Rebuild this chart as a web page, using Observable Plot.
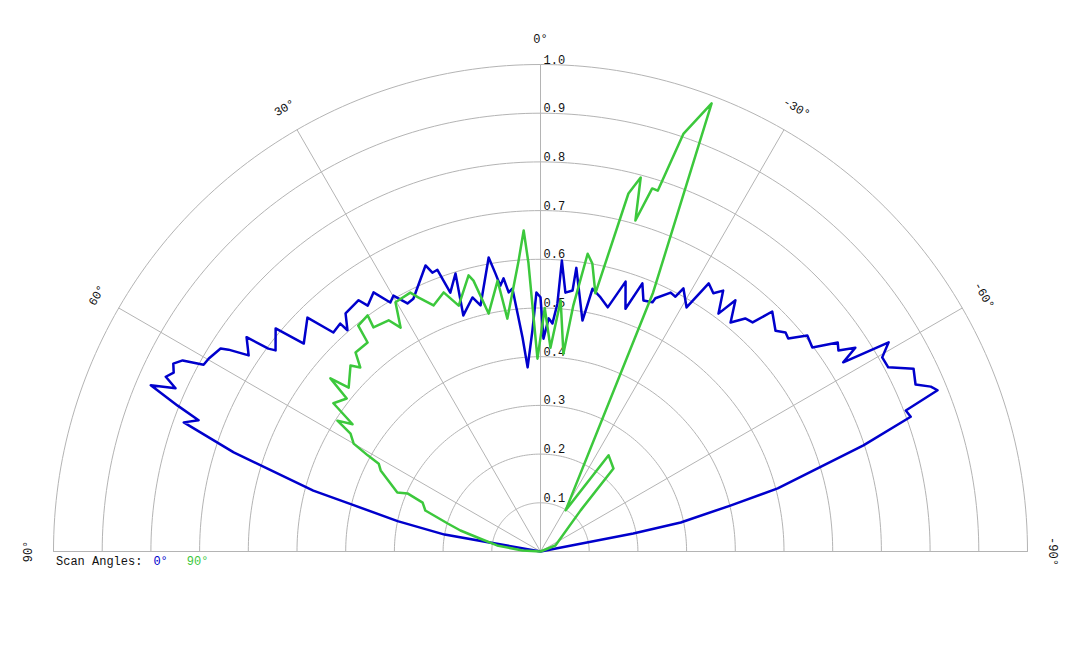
<!DOCTYPE html>
<html>
<head>
<meta charset="utf-8">
<script src="https://cdn.jsdelivr.net/npm/d3@7"></script>
<script src="https://cdn.jsdelivr.net/npm/@observablehq/plot@0.6"></script>
<style>
  html, body { margin: 0; padding: 0; background: #fff; }
  body { width: 1080px; height: 648px; position: relative; overflow: hidden; font-family: "Liberation Mono", "DejaVu Sans Mono", monospace; }
  #chart { position: absolute; left: 0; top: 0; }
  #legend { position: absolute; left: 56px; top: 555px; font-size: 12px; line-height: 14px; color: #111; white-space: pre; z-index: 2; }
</style>
</head>
<body>
<div id="chart"></div>
<div id="legend"></div>
<script>
// ---- data (angle in degrees, positive to the left; value = normalized radius) ----
const blueAngles = [90, 80, 78, 76, 75, 72.1, 70.1, 69.0, 68.1, 66.9,
  65.9, 65.0, 64.0, 62.9, 61.9, 61.0, 59.8, 57.6, 57.1, 56.1,
  53.9, 53.3, 52.8, 49.9, 48.7, 44.9, 43.4, 41.3, 41.1, 39.3,
  35.9, 35.1, 32.8, 31.1, 29.9, 28.2, 26.7, 21.9, 21.2, 20.1,
  19.7, 19.2, 17.0, 18.1, 15.0, 13.7, 10.0, 9.2, 8.6, 7.7,
  7.0, 6.1, 5.5, 4.8, 4.0, 2.1, 0.9, 0, -0.8, -2.0,
  -3.0, -3.9, -4.2, -5.5, -7.0, -7.2, -10.3, -11.2, -13.3, -15.4,
  -17.5, -19.3, -20.8, -22.3, -24.2, -24.4, -26.7, -27.9, -28.5, -30.9,
  -32.1, -33.8, -35.0, -36.8, -37.8, -39.7, -41.3, -42.8, -44.0, -46.8,
  -48.2, -49.3, -51.0, -53.1, -54.9, -56.0, -57.1, -58.0, -59.0, -60.4,
  -62.1, -63.9, -66.0, -67.1, -67.9, -68.9, -70.0, -71.8, -73.3, -75.1,
  -76.4, -78.3, -79.0, -90];
const blueValues = [0, 0.20, 0.30, 0.40, 0.483, 0.662, 0.779, 0.752, 0.803, 0.870,
  0.821, 0.849, 0.838, 0.847, 0.833, 0.791, 0.788, 0.778, 0.763, 0.722,
  0.747, 0.697, 0.683, 0.711, 0.647, 0.678, 0.619, 0.623, 0.603, 0.632,
  0.637, 0.617, 0.633, 0.597, 0.606, 0.578, 0.581, 0.633, 0.614, 0.616,
  0.591, 0.563, 0.597, 0.510, 0.540, 0.520, 0.613, 0.578, 0.552, 0.566,
  0.536, 0.543, 0.491, 0.441, 0.379, 0.454, 0.532, 0.522, 0.437, 0.479,
  0.469, 0.510, 0.599, 0.534, 0.540, 0.587, 0.482, 0.550, 0.536, 0.520,
  0.581, 0.528, 0.589, 0.557, 0.561, 0.571, 0.595, 0.592, 0.615, 0.584,
  0.650, 0.638, 0.654, 0.610, 0.653, 0.611, 0.637, 0.641, 0.685, 0.662,
  0.675, 0.671, 0.705, 0.698, 0.746, 0.738, 0.770, 0.733, 0.834, 0.807,
  0.808, 0.853, 0.843, 0.870, 0.880, 0.804, 0.809, 0.698, 0.594, 0.504,
  0.401, 0.294, 0.194, 0];

const greenAngles = [90, 87, 82, 78, 75.3, 73.2, 70.4, 67.5, 66.4, 67.6,
  63.1, 61.5, 60.9, 60.0, 58.2, 57.2, 55.9, 54.4, 51.7, 50.5,
  49.5, 45.6, 44.4, 42.9, 39.6, 38.9, 36.2, 36.7, 33.3, 32.0,
  30.2, 26.7, 25.7, 23.5, 20.5, 18.4, 14.6, 13.9, 12.3, 9.0,
  8.1, 4.4, 3.0, 2.4, 0.9, -1.0, -2.8, -4.6, -6.6, -7.6,
  -9.0, -10.2, -12.0, -13.8, -15.0, -16.0, -17.1, -18.0, -18.9, -20.9,
  -23.5, -31.4, -35.3, -41.3, -44.3, -68, -90];
const greenValues = [0, 0.037, 0.09, 0.126, 0.17, 0.199, 0.251, 0.262, 0.298, 0.318,
  0.368, 0.378, 0.406, 0.443, 0.459, 0.496, 0.466, 0.523, 0.507, 0.559,
  0.518, 0.546, 0.529, 0.558, 0.557, 0.596, 0.601, 0.574, 0.568, 0.542,
  0.592, 0.595, 0.579, 0.551, 0.568, 0.532, 0.586, 0.573, 0.500, 0.563,
  0.483, 0.595, 0.660, 0.594, 0.396, 0.500, 0.419, 0.517, 0.409, 0.510,
  0.619, 0.601, 0.542, 0.757, 0.795, 0.707, 0.780, 0.779, 0.907, 0.985,
  0.58, 0.099, 0.242, 0.227, 0.118, 0.033, 0];

const ringValues = [0.1, 0.2, 0.3, 0.4, 0.5, 0.6, 0.7, 0.8, 0.9, 1.0];
const spokeAngles = [-90, -60, -30, 0, 30, 60, 90];
const angleTicks = [90, 60, 30, 0, -30, -60, -90];
const seriesNames = ["0°", "90°"];
const seriesColors = ["#0000cc", "#3cc83c"];
const legendTitle = "Scan Angles:";

// ---- helpers ----
const rad = d => d * Math.PI / 180;
const px = (a, r) => -r * Math.sin(rad(a));
const py = (a, r) => r * Math.cos(rad(a));
const toRows = (angles, values) => angles.map((a, i) => ({angle: a, value: values[i], x: px(a, values[i]), y: py(a, values[i])}));

const blueRows = toRows(blueAngles, blueValues);
const greenRows = toRows(greenAngles, greenValues);
const ringPts = ringValues.flatMap(r => d3.range(-90, 90.5, 1).map(a => ({r, x: px(a, r), y: py(a, r)})));
const spokes = spokeAngles.map(a => ({a, x2: px(a, 1), y2: py(a, 1)}));

const FONT = "'Liberation Mono', 'DejaVu Sans Mono', monospace";
const GRID = "#b4b4b4";

const chart = Plot.plot({
  width: 1080,
  height: 585,
  marginLeft: 53,
  marginRight: 53,
  marginTop: 64,
  marginBottom: 34,
  x: {domain: [-1, 1], axis: null},
  y: {domain: [0, 1], axis: null},
  style: {fontFamily: FONT, fontSize: "12px", background: "transparent"},
  marks: [
    Plot.line(ringPts, {x: "x", y: "y", z: "r", stroke: GRID, strokeWidth: 1}),
    Plot.link(spokes, {x1: () => 0, y1: () => 0, x2: "x2", y2: "y2", stroke: GRID, strokeWidth: 1}),
    Plot.text(ringValues, {x: () => 0, y: d => d, text: d => d.toFixed(1), textAnchor: "start", lineAnchor: "bottom", dx: 3, dy: -1, fill: "#111", fontSize: 12, fontFamily: FONT}),
    Plot.text(angleTicks, {x: d => px(d, 1.052), y: d => py(d, 1.052), text: d => `${d}°`, rotate: d => -d, textAnchor: "middle", lineAnchor: "middle", fill: "#111", fontSize: 12, fontFamily: FONT}),
    Plot.line(blueRows, {x: "x", y: "y", stroke: seriesColors[0], strokeWidth: 2.5, strokeLinejoin: "round"}),
    Plot.line(greenRows, {x: "x", y: "y", stroke: seriesColors[1], strokeWidth: 2.5, strokeLinejoin: "round"})
  ]
});
document.getElementById("chart").appendChild(chart);

const legend = document.getElementById("legend");
const t = document.createElement("span");
t.textContent = legendTitle;
legend.appendChild(t);
seriesNames.forEach((n, i) => {
  const s = document.createElement("span");
  s.textContent = n;
  s.style.color = seriesColors[i];
  s.style.marginLeft = i === 0 ? "11px" : "19px";
  legend.appendChild(s);
});
</script>
</body>
</html>
